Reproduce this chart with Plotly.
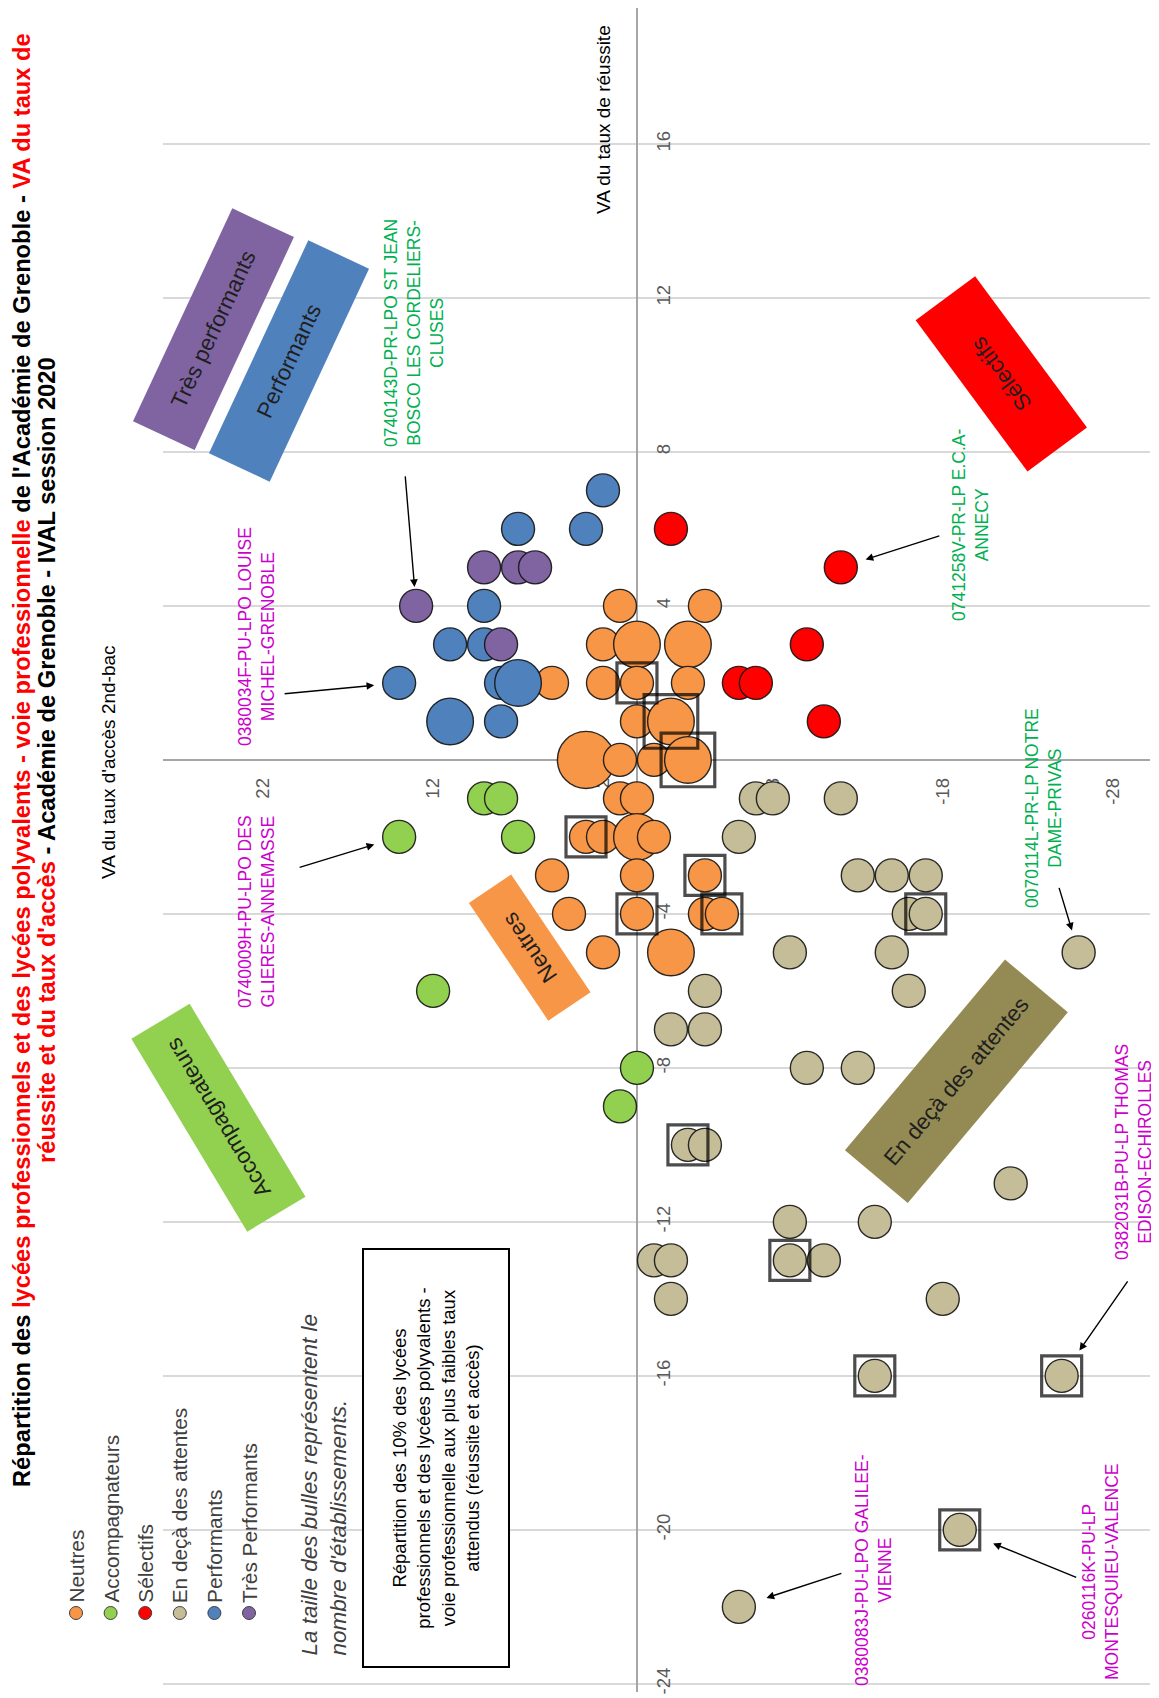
import plotly.graph_objects as go

# ---------------- data ----------------
# acces = VA du taux d'accès 2nd-bac, reussite = VA du taux de réussite, nb = nombre d'établissements
neutres_acces = [1, -4, 2, 0, -3, 5, 2, 0, -3, 0, -2, 3, 1, -1, -3, 1, 0, 3, 2, 0, -1, 5, 0, -4, 4, 0, -4, -5, 2, -2]
neutres_reussite = [4, 4, 3, 3, 3, 2, 2, 2, 2, 1, 1, 0, 0, 0, 0, -1, -1, -2, -2, -2, -2, -3, -3, -3, -4, -4, -4, -4, -5, -5]
neutres_nb = [1, 1, 1, 2, 2, 1, 1, 1, 1, 1, 2, 3, 1, 1, 2, 1, 1, 1, 1, 2, 1, 1, 1, 1, 1, 1, 1, 1, 1, 2]

accomp_acces = [14, 9, 8, 7, 12, 0, 1]
accomp_reussite = [-2, -1, -1, -2, -6, -8, -9]
accomp_nb = [1, 1, 1, 1, 1, 1, 1]

selectifs_acces = [-2, -12, -10, -6, -7, -11]
selectifs_reussite = [6, 5, 3, 2, 2, 1]
selectifs_nb = [1, 1, 1, 1, 1, 1]

endeca_acces = [-7, -8, -12, -6, -13, -15, -17, -16, -17, -9, -15, -26, -4, -16, -2, -4, -10,
                -13, -3, -4, -22, -9, -14, -1, -2, -9, -11, -2, -18, -14, -25, -19, -6]
endeca_reussite = [-1, -1, -1, -2, -3, -3, -3, -4, -4, -5, -5, -5, -6, -6, -7, -7, -8,
                   -8, -10, -10, -11, -12, -12, -13, -13, -13, -13, -14, -14, -16, -16, -20, -22]
endeca_nb = [1] * 33

perf_acces = [2, 7, 3, 9, 11, 9, 8, 7, 14, 11, 8]
perf_reussite = [7, 6, 6, 4, 3, 3, 2, 2, 2, 1, 1]
perf_nb = [1, 1, 1, 1, 1, 1, 1, 2, 1, 2, 1]

tresperf_acces = [9, 7, 6, 13, 8]
tresperf_reussite = [5, 5, 5, 4, 3]
tresperf_nb = [1, 1, 1, 1, 1]

# 10% des lycées aux plus faibles taux attendus (encadrés)
faibles_acces = [0, -2, -3, 3, -4, 0, -5, -17, -3, -9, -14, -25, -19]
faibles_reussite = [2, 1, 0, -2, -3, -4, -4, -4, -10, -13, -16, -16, -20]
faibles_nb = [1, 2, 2, 1, 1, 1, 1, 1, 1, 1, 1, 1, 1]

acces_ticks = [22, 12, 2, -8, -18, -28]
reussite_ticks = [16, 12, 8, 4, 0, -4, -8, -12, -16, -20, -24]

series_names = ["Neutres", "Accompagnateurs", "Sélectifs", "En deçà des attentes",
                "Performants", "Très Performants"]

# ---------------- styling / layout constants ----------------
FONT = "Liberation Sans, Arial, sans-serif"
COLORS = {
    "Neutres": "#F79646",
    "Accompagnateurs": "#92D050",
    "Sélectifs": "#FF0000",
    "En deçà des attentes": "#C4BD97",
    "Performants": "#4F81BD",
    "Très Performants": "#8064A2",
}
W, H = 1159, 1698
OFF = 8                       # page margin of the html body
ML, MR, MT, MB = 155, 17, 0, 14
PW, PH = W - ML - MR, H - MT - MB
X_RANGE = [27.9, -30.2]      # reversed accès axis (horizontal in the picture)
Y_RANGE = [-24.21, 19.53]    # réussite axis (vertical in the picture)
BUBBLE_R1 = 16.5             # radius (px) of a 1-établissement bubble
MAGENTA = "#CC00CC"
GREEN = "#00B050"


def paper(xs, ys):
    """screen pixel position -> paper coordinates"""
    xf, yf = xs - OFF, ys - OFF
    return (xf - ML) / PW, (H - MB - yf) / PH


data = {
    "Neutres": (neutres_acces, neutres_reussite, neutres_nb),
    "Accompagnateurs": (accomp_acces, accomp_reussite, accomp_nb),
    "Sélectifs": (selectifs_acces, selectifs_reussite, selectifs_nb),
    "En deçà des attentes": (endeca_acces, endeca_reussite, endeca_nb),
    "Performants": (perf_acces, perf_reussite, perf_nb),
    "Très Performants": (tresperf_acces, tresperf_reussite, tresperf_nb),
}

fig = go.Figure()
for name in series_names:
    xs, ys, ns = data[name]
    fig.add_trace(go.Scatter(
        x=xs, y=ys, mode="markers", name=name, showlegend=False,
        marker=dict(size=ns, sizemode="area", sizeref=1 / (2 * BUBBLE_R1 ** 2),
                    color=COLORS[name], opacity=1,
                    line=dict(color="rgba(20,20,20,0.9)", width=1.4)),
        hoverinfo="x+y+name",
    ))

fig.add_trace(go.Scatter(
    x=faibles_acces, y=faibles_reussite, mode="markers", showlegend=False,
    marker=dict(symbol="square-open", size=[2 * BUBBLE_R1 * n ** 0.5 + 7 for n in faibles_nb],
                color="black", line=dict(color="black", width=3.2)),
    hoverinfo="skip",
))

annotations = []
shapes = []

# ----- title (two lines, rotated) -----
title_lines = [
    "<b>Répartition des <span style='color:#FF0000'>lycées professionnels et des lycées polyvalents - "
    "voie professionnelle</span> de l'Académie de Grenoble - <span style='color:#FF0000'>VA du taux de</span></b>",
    "<b><span style='color:#FF0000'>réussite et du taux d'accès</span> - Académie de Grenoble - IVAL session 2020</b>",
]
for i, t in enumerate(title_lines):
    px_, py_ = paper(22 + 25 * i, 760)
    annotations.append(dict(text=t, x=px_, y=py_, xref="paper", yref="paper", showarrow=False,
                            textangle=-90, xanchor="center", yanchor="middle",
                            font=dict(family=FONT, size=23.7, color="#000000")))

# ----- axis titles -----
for txt, (xp, yp) in [("VA du taux d'accès 2nd-bac", (108, 762)), ("VA du taux de réussite", (603, 120))]:
    px_, py_ = paper(xp, yp)
    annotations.append(dict(text=txt, x=px_, y=py_, xref="paper", yref="paper", showarrow=False,
                            textangle=-90, xanchor="center", yanchor="middle",
                            font=dict(family=FONT, size=19, color="#000000")))

# ----- legend (rotated) -----
for i, name in enumerate(series_names):
    xp = 76 + 34.6 * i
    fx, fy = paper(xp, 1613)
    shapes.append(dict(type="circle", xref="paper", yref="paper", xsizemode="pixel", ysizemode="pixel",
                       xanchor=fx, yanchor=fy, x0=-6.5, x1=6.5, y0=-6.5, y1=6.5,
                       fillcolor=COLORS[name], line=dict(color="#404040", width=1)))
    tx, ty = paper(xp, 1604)
    annotations.append(dict(text=name, x=tx, y=ty, xref="paper", yref="paper", showarrow=False,
                            textangle=-90, xanchor="center", yanchor="bottom", borderpad=0,
                            font=dict(family=FONT, size=20.8, color="#404040")))

# ----- note on bubble size -----
nx, ny = paper(323, 1657)
annotations.append(dict(text="<i>La taille des bulles représentent le<br>nombre d'établissements.</i>",
                        x=nx, y=ny, xref="paper", yref="paper", showarrow=False, textangle=-90,
                        xanchor="center", yanchor="bottom", align="left", borderpad=0,
                        font=dict(family=FONT, size=22.5, color="#404040")))

# ----- framed note -----
bx, by = paper(436, 1458)
annotations.append(dict(
    text="Répartition des 10% des lycées<br>professionnels et des lycées polyvalents -<br>"
         "voie professionnelle aux plus faibles taux<br>attendus (réussite et accès)",
    x=bx, y=by, xref="paper", yref="paper", showarrow=False, textangle=-90,
    xanchor="center", yanchor="middle", align="center", width=416, height=144,
    bordercolor="#000000", borderwidth=2, borderpad=0, bgcolor="#FFFFFF",
    font=dict(family=FONT, size=18.5, color="#000000")))

# ----- category labels (rotated coloured boxes) -----
categories = [
    ("Très performants", (213, 329), 234, 67, -65, "#8064A2"),
    ("Performants", (289, 361), 234, 66, -65, "#4F81BD"),
    ("Sélectifs", (1002, 374), 187, 73, -126.5, "#FF0000"),
    ("Neutres", (530, 948), 141, 50, -124, "#F79646"),
    ("Accompagnateurs", (218, 1118), 224, 67, -121, "#92D050"),
    ("En deçà des attentes", (956, 1081), 248, 81, -50, "#948A54"),
]
for txt, (xp, yp), ln, th, ang, col in categories:
    cx, cy = paper(xp, yp)
    annotations.append(dict(text=txt, x=cx, y=cy, xref="paper", yref="paper", showarrow=False,
                            textangle=ang, xanchor="center", yanchor="middle", width=ln, height=th,
                            bgcolor=col, borderpad=0, align="center", valign="middle",
                            font=dict(family=FONT, size=22.5, color="#1F1F1F")))

# ----- call-outs -----
callouts = [
    ("0740143D-PR-LPO ST JEAN<br>BOSCO LES CORDELIERS-<br>CLUSES", GREEN, (414, 333), "Très Performants", 3, -11, -131, 19),
    ("0380034F-PU-LPO LOUISE<br>MICHEL-GRENOBLE", MAGENTA, (256, 637), "Performants", 8, -116, 11, 25),
    ("0740009H-PU-LPO DES<br>GLIERES-ANNEMASSE", MAGENTA, (256, 912), "Accompagnateurs", 0, -101, 31, 26),
    ("0741258V-PR-LP E.C.A-<br>ANNECY", GREEN, (970, 525), "Sélectifs", 1, 100, -32, 26),
    ("0070114L-PR-LP NOTRE<br>DAME-PRIVAS", GREEN, (1043, 808), "En deçà des attentes", 11, -20, -66, 23),
    ("0382031B-PU-LP THOMAS<br>EDISON-ECHIROLLES", MAGENTA, (1133, 1152), "En deçà des attentes", 30, 67, -96, 31),
    ("0260116K-PU-LP<br>MONTESQUIEU-VALENCE", MAGENTA, (1100, 1572), "En deçà des attentes", 31, 118, 48, 36),
    ("0380083J-PU-LPO GALILEE-<br>VIENNE", MAGENTA, (873, 1570), "En deçà des attentes", 32, 104, -34, 29),
]
for txt, col, (xp, yp), ser, idx, ax, ay, so in callouts:
    cx, cy = paper(xp, yp)
    annotations.append(dict(text=txt, x=cx, y=cy, xref="paper", yref="paper", showarrow=False,
                            textangle=-90, xanchor="center", yanchor="middle", align="center",
                            borderpad=0, font=dict(family=FONT, size=17.5, color=col)))
    xs, ys, _ = data[ser]
    annotations.append(dict(text="", x=xs[idx], y=ys[idx], xref="x", yref="y", showarrow=True,
                            ax=ax, ay=ay, arrowhead=2, arrowsize=1.1, arrowwidth=1.4,
                            arrowcolor="#000000", standoff=so))

x_axis_pos = (0 - Y_RANGE[0]) / (Y_RANGE[1] - Y_RANGE[0])
y_axis_pos = (X_RANGE[0] - 0) / (X_RANGE[0] - X_RANGE[1])

fig.update_layout(
    width=W, height=H,
    margin=dict(l=ML, r=MR, t=MT, b=MB, pad=0),
    paper_bgcolor="white", plot_bgcolor="white",
    showlegend=False,
    font=dict(family=FONT),
    xaxis=dict(range=X_RANGE, anchor="free", position=x_axis_pos,
               tickmode="array", tickvals=acces_ticks, ticktext=[str(v) for v in acces_ticks],
               tickangle=-90, tickfont=dict(family=FONT, size=18.5, color="#595959"),
               showgrid=False, zeroline=False, showline=True, linecolor="#A6A6A6", linewidth=1.5,
               ticks="", ticklabelstandoff=10, layer="below traces"),
    yaxis=dict(range=Y_RANGE, anchor="free", position=y_axis_pos, side="right",
               tickmode="array", tickvals=reussite_ticks, ticktext=[str(v) for v in reussite_ticks],
               tickangle=-90, tickfont=dict(family=FONT, size=18.5, color="#595959"),
               showgrid=True, gridcolor="#D9D9D9", gridwidth=1.5, zeroline=False,
               showline=True, linecolor="#A6A6A6", linewidth=1.5,
               ticks="", ticklabelstandoff=10, layer="below traces"),
    annotations=annotations,
    shapes=shapes,
)

fig.write_html("out.html")
